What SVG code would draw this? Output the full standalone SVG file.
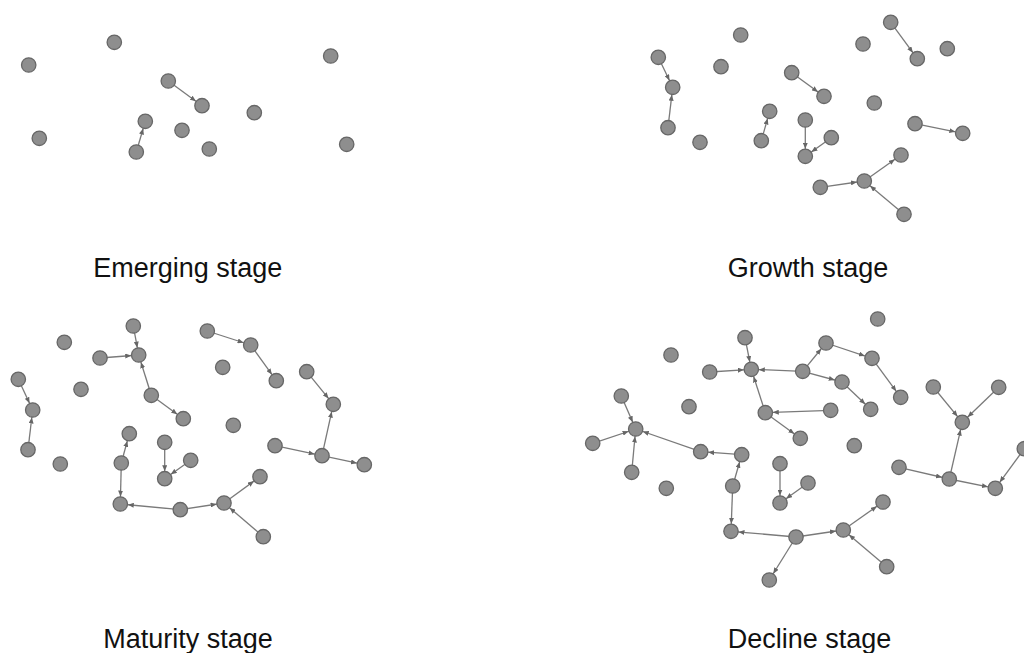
<svg xmlns="http://www.w3.org/2000/svg" width="1024" height="653" viewBox="0 0 1024 653">
<style>
.n{fill:#8e8e8e;stroke:#676767;stroke-width:1.3}
.e line{stroke:#7a7a7a;stroke-width:1.3;marker-end:url(#ah)}
.t{font-family:"Liberation Sans",Arial,sans-serif;font-size:27px;fill:#111;text-anchor:middle}
</style>
<defs>
<marker id="ah" markerUnits="userSpaceOnUse" markerWidth="6" markerHeight="5" refX="13.5" refY="2.5" orient="auto"><path d="M0,0 L6,2.5 L0,5 z" fill="#666"/></marker>
</defs>
<rect width="1024" height="653" fill="#fff"/>
<g id="connectors" class="e">
<line x1="168.3" y1="81" x2="202" y2="105.7"/>
<line x1="136.3" y1="152" x2="145.3" y2="121.3"/>
<line x1="890.7" y1="22.3" x2="917.3" y2="58.7"/>
<line x1="658.3" y1="57.3" x2="672.7" y2="87.3"/>
<line x1="668" y1="127.7" x2="672.7" y2="87.3"/>
<line x1="791.7" y1="72.7" x2="824" y2="96.3"/>
<line x1="761.3" y1="140.7" x2="769.7" y2="111.3"/>
<line x1="805.3" y1="120" x2="805.3" y2="156.3"/>
<line x1="831.3" y1="137.7" x2="805.3" y2="156.3"/>
<line x1="915" y1="123.7" x2="962.7" y2="133.3"/>
<line x1="820.3" y1="187.3" x2="864.3" y2="181"/>
<line x1="864.3" y1="181" x2="901" y2="155"/>
<line x1="904" y1="214.3" x2="864.3" y2="181"/>
<line x1="133.3" y1="326" x2="138.7" y2="355"/>
<line x1="100" y1="358" x2="138.7" y2="355"/>
<line x1="151.3" y1="395.3" x2="138.7" y2="355"/>
<line x1="151.3" y1="395.3" x2="183.3" y2="418.7"/>
<line x1="207.3" y1="331" x2="250.7" y2="345"/>
<line x1="250.7" y1="345" x2="276.3" y2="380.7"/>
<line x1="18.3" y1="379.3" x2="32.7" y2="410"/>
<line x1="28" y1="449.7" x2="32.7" y2="410"/>
<line x1="306.7" y1="371.7" x2="333.3" y2="404.3"/>
<line x1="322" y1="455.7" x2="333.3" y2="404.3"/>
<line x1="275" y1="445.7" x2="322" y2="455.7"/>
<line x1="322" y1="455.7" x2="364.3" y2="464.7"/>
<line x1="121.3" y1="463" x2="129.3" y2="433.7"/>
<line x1="121.3" y1="463" x2="120.3" y2="504"/>
<line x1="164.7" y1="442.3" x2="164.7" y2="478.7"/>
<line x1="190.7" y1="460.3" x2="164.7" y2="478.7"/>
<line x1="180.3" y1="509.7" x2="120.3" y2="504"/>
<line x1="180.3" y1="509.7" x2="224" y2="503"/>
<line x1="224" y1="503" x2="260" y2="476.7"/>
<line x1="263.3" y1="536.7" x2="224" y2="503"/>
<line x1="745" y1="337.7" x2="751.3" y2="369.3"/>
<line x1="709.7" y1="372" x2="751.3" y2="369.3"/>
<line x1="802.7" y1="371.3" x2="751.3" y2="369.3"/>
<line x1="765.3" y1="412.7" x2="751.3" y2="369.3"/>
<line x1="802.7" y1="371.3" x2="826" y2="343"/>
<line x1="826" y1="343" x2="872" y2="358.3"/>
<line x1="872" y1="358.3" x2="900.7" y2="397.3"/>
<line x1="802.7" y1="371.3" x2="842" y2="382"/>
<line x1="842" y1="382" x2="870.7" y2="409.3"/>
<line x1="830.7" y1="410.3" x2="765.3" y2="412.7"/>
<line x1="765.3" y1="412.7" x2="800.3" y2="438.3"/>
<line x1="621.3" y1="396" x2="635.7" y2="429"/>
<line x1="592.7" y1="443.3" x2="635.7" y2="429"/>
<line x1="631.7" y1="472.3" x2="635.7" y2="429"/>
<line x1="700.7" y1="451.7" x2="635.7" y2="429"/>
<line x1="741.7" y1="454.7" x2="700.7" y2="451.7"/>
<line x1="732.7" y1="486" x2="741.7" y2="454.7"/>
<line x1="732.7" y1="486" x2="731" y2="531.3"/>
<line x1="780" y1="463.7" x2="780" y2="503"/>
<line x1="808" y1="483" x2="780" y2="503"/>
<line x1="796" y1="537" x2="731" y2="531.3"/>
<line x1="796" y1="537" x2="843.3" y2="530"/>
<line x1="796" y1="537" x2="769.3" y2="580"/>
<line x1="843.3" y1="530" x2="883" y2="502"/>
<line x1="886.7" y1="566.7" x2="843.3" y2="530"/>
<line x1="933.3" y1="387" x2="962.3" y2="422.3"/>
<line x1="998.7" y1="387.3" x2="962.3" y2="422.3"/>
<line x1="949.3" y1="479" x2="962.3" y2="422.3"/>
<line x1="899" y1="467.3" x2="949.3" y2="479"/>
<line x1="949.3" y1="479" x2="995.3" y2="488.3"/>
<line x1="1024.3" y1="448.7" x2="995.3" y2="488.3"/>
</g>
<g id="emerging">
<g id="a1"><circle class="n" cx="28.7" cy="65" r="7.2"/></g>
<g id="a2"><circle class="n" cx="114.3" cy="42.3" r="7.2"/></g>
<g id="a3"><circle class="n" cx="330.7" cy="56" r="7.2"/></g>
<g id="a4"><circle class="n" cx="168.3" cy="81" r="7.2"/></g>
<g id="a5"><circle class="n" cx="202" cy="105.7" r="7.2"/></g>
<g id="a6"><circle class="n" cx="254.3" cy="112.7" r="7.2"/></g>
<g id="a7"><circle class="n" cx="39.3" cy="138.3" r="7.2"/></g>
<g id="a8"><circle class="n" cx="145.3" cy="121.3" r="7.2"/></g>
<g id="a9"><circle class="n" cx="182" cy="130.3" r="7.2"/></g>
<g id="a10"><circle class="n" cx="136.3" cy="152" r="7.2"/></g>
<g id="a11"><circle class="n" cx="209.3" cy="149" r="7.2"/></g>
<g id="a12"><circle class="n" cx="346.7" cy="144.3" r="7.2"/></g>
</g>
<g id="growth">
<g id="b1"><circle class="n" cx="890.7" cy="22.3" r="7.2"/></g>
<g id="b2"><circle class="n" cx="740.7" cy="35" r="7.2"/></g>
<g id="b3"><circle class="n" cx="863" cy="44" r="7.2"/></g>
<g id="b4"><circle class="n" cx="947.3" cy="48.7" r="7.2"/></g>
<g id="b5"><circle class="n" cx="917.3" cy="58.7" r="7.2"/></g>
<g id="b6"><circle class="n" cx="658.3" cy="57.3" r="7.2"/></g>
<g id="b7"><circle class="n" cx="721" cy="66.7" r="7.2"/></g>
<g id="b8"><circle class="n" cx="672.7" cy="87.3" r="7.2"/></g>
<g id="b9"><circle class="n" cx="791.7" cy="72.7" r="7.2"/></g>
<g id="b10"><circle class="n" cx="824" cy="96.3" r="7.2"/></g>
<g id="b11"><circle class="n" cx="874.3" cy="103" r="7.2"/></g>
<g id="b12"><circle class="n" cx="769.7" cy="111.3" r="7.2"/></g>
<g id="b13"><circle class="n" cx="668" cy="127.7" r="7.2"/></g>
<g id="b14"><circle class="n" cx="915" cy="123.7" r="7.2"/></g>
<g id="b15"><circle class="n" cx="962.7" cy="133.3" r="7.2"/></g>
<g id="b16"><circle class="n" cx="700" cy="142.3" r="7.2"/></g>
<g id="b17"><circle class="n" cx="761.3" cy="140.7" r="7.2"/></g>
<g id="b18"><circle class="n" cx="805.3" cy="120" r="7.2"/></g>
<g id="b19"><circle class="n" cx="831.3" cy="137.7" r="7.2"/></g>
<g id="b20"><circle class="n" cx="805.3" cy="156.3" r="7.2"/></g>
<g id="b21"><circle class="n" cx="901" cy="155" r="7.2"/></g>
<g id="b22"><circle class="n" cx="864.3" cy="181" r="7.2"/></g>
<g id="b23"><circle class="n" cx="820.3" cy="187.3" r="7.2"/></g>
<g id="b24"><circle class="n" cx="904" cy="214.3" r="7.2"/></g>
</g>
<g id="maturity">
<g id="c1"><circle class="n" cx="133.3" cy="326" r="7.2"/></g>
<g id="c2"><circle class="n" cx="207.3" cy="331" r="7.2"/></g>
<g id="c3"><circle class="n" cx="64.3" cy="342.3" r="7.2"/></g>
<g id="c4"><circle class="n" cx="100" cy="358" r="7.2"/></g>
<g id="c5"><circle class="n" cx="138.7" cy="355" r="7.2"/></g>
<g id="c6"><circle class="n" cx="250.7" cy="345" r="7.2"/></g>
<g id="c7"><circle class="n" cx="222.7" cy="367.3" r="7.2"/></g>
<g id="c8"><circle class="n" cx="306.7" cy="371.7" r="7.2"/></g>
<g id="c9"><circle class="n" cx="18.3" cy="379.3" r="7.2"/></g>
<g id="c10"><circle class="n" cx="81" cy="389.3" r="7.2"/></g>
<g id="c11"><circle class="n" cx="276.3" cy="380.7" r="7.2"/></g>
<g id="c12"><circle class="n" cx="151.3" cy="395.3" r="7.2"/></g>
<g id="c13"><circle class="n" cx="32.7" cy="410" r="7.2"/></g>
<g id="c14"><circle class="n" cx="333.3" cy="404.3" r="7.2"/></g>
<g id="c15"><circle class="n" cx="183.3" cy="418.7" r="7.2"/></g>
<g id="c16"><circle class="n" cx="233.3" cy="425.3" r="7.2"/></g>
<g id="c17"><circle class="n" cx="129.3" cy="433.7" r="7.2"/></g>
<g id="c18"><circle class="n" cx="164.7" cy="442.3" r="7.2"/></g>
<g id="c19"><circle class="n" cx="28" cy="449.7" r="7.2"/></g>
<g id="c20"><circle class="n" cx="275" cy="445.7" r="7.2"/></g>
<g id="c21"><circle class="n" cx="322" cy="455.7" r="7.2"/></g>
<g id="c22"><circle class="n" cx="190.7" cy="460.3" r="7.2"/></g>
<g id="c23"><circle class="n" cx="60.3" cy="464" r="7.2"/></g>
<g id="c24"><circle class="n" cx="121.3" cy="463" r="7.2"/></g>
<g id="c25"><circle class="n" cx="164.7" cy="478.7" r="7.2"/></g>
<g id="c26"><circle class="n" cx="364.3" cy="464.7" r="7.2"/></g>
<g id="c27"><circle class="n" cx="260" cy="476.7" r="7.2"/></g>
<g id="c28"><circle class="n" cx="120.3" cy="504" r="7.2"/></g>
<g id="c29"><circle class="n" cx="180.3" cy="509.7" r="7.2"/></g>
<g id="c30"><circle class="n" cx="224" cy="503" r="7.2"/></g>
<g id="c31"><circle class="n" cx="263.3" cy="536.7" r="7.2"/></g>
</g>
<g id="decline">
<g id="d1"><circle class="n" cx="877.7" cy="319" r="7.2"/></g>
<g id="d2"><circle class="n" cx="745" cy="337.7" r="7.2"/></g>
<g id="d3"><circle class="n" cx="826" cy="343" r="7.2"/></g>
<g id="d4"><circle class="n" cx="671" cy="355" r="7.2"/></g>
<g id="d5"><circle class="n" cx="709.7" cy="372" r="7.2"/></g>
<g id="d6"><circle class="n" cx="751.3" cy="369.3" r="7.2"/></g>
<g id="d7"><circle class="n" cx="802.7" cy="371.3" r="7.2"/></g>
<g id="d8"><circle class="n" cx="872" cy="358.3" r="7.2"/></g>
<g id="d9"><circle class="n" cx="842" cy="382" r="7.2"/></g>
<g id="d10"><circle class="n" cx="621.3" cy="396" r="7.2"/></g>
<g id="d11"><circle class="n" cx="689" cy="406.7" r="7.2"/></g>
<g id="d12"><circle class="n" cx="933.3" cy="387" r="7.2"/></g>
<g id="d13"><circle class="n" cx="998.7" cy="387.3" r="7.2"/></g>
<g id="d14"><circle class="n" cx="900.7" cy="397.3" r="7.2"/></g>
<g id="d15"><circle class="n" cx="765.3" cy="412.7" r="7.2"/></g>
<g id="d16"><circle class="n" cx="830.7" cy="410.3" r="7.2"/></g>
<g id="d17"><circle class="n" cx="870.7" cy="409.3" r="7.2"/></g>
<g id="d18"><circle class="n" cx="635.7" cy="429" r="7.2"/></g>
<g id="d19"><circle class="n" cx="962.3" cy="422.3" r="7.2"/></g>
<g id="d20"><circle class="n" cx="592.7" cy="443.3" r="7.2"/></g>
<g id="d21"><circle class="n" cx="800.3" cy="438.3" r="7.2"/></g>
<g id="d22"><circle class="n" cx="854.3" cy="445.7" r="7.2"/></g>
<g id="d23"><circle class="n" cx="700.7" cy="451.7" r="7.2"/></g>
<g id="d24"><circle class="n" cx="741.7" cy="454.7" r="7.2"/></g>
<g id="d25"><circle class="n" cx="1024.3" cy="448.7" r="7.2"/></g>
<g id="d26"><circle class="n" cx="780" cy="463.7" r="7.2"/></g>
<g id="d27"><circle class="n" cx="631.7" cy="472.3" r="7.2"/></g>
<g id="d28"><circle class="n" cx="899" cy="467.3" r="7.2"/></g>
<g id="d29"><circle class="n" cx="949.3" cy="479" r="7.2"/></g>
<g id="d30"><circle class="n" cx="995.3" cy="488.3" r="7.2"/></g>
<g id="d31"><circle class="n" cx="666.3" cy="488.3" r="7.2"/></g>
<g id="d32"><circle class="n" cx="732.7" cy="486" r="7.2"/></g>
<g id="d33"><circle class="n" cx="808" cy="483" r="7.2"/></g>
<g id="d34"><circle class="n" cx="780" cy="503" r="7.2"/></g>
<g id="d35"><circle class="n" cx="883" cy="502" r="7.2"/></g>
<g id="d36"><circle class="n" cx="731" cy="531.3" r="7.2"/></g>
<g id="d37"><circle class="n" cx="796" cy="537" r="7.2"/></g>
<g id="d38"><circle class="n" cx="843.3" cy="530" r="7.2"/></g>
<g id="d39"><circle class="n" cx="886.7" cy="566.7" r="7.2"/></g>
<g id="d40"><circle class="n" cx="769.3" cy="580" r="7.2"/></g>
</g>
<g id="labels">
<text class="t" x="187.7" y="276.7">Emerging stage</text>
<text class="t" x="808" y="276.7">Growth stage</text>
<text class="t" x="188" y="648">Maturity stage</text>
<text class="t" x="809.5" y="648">Decline stage</text>
</g>
</svg>
